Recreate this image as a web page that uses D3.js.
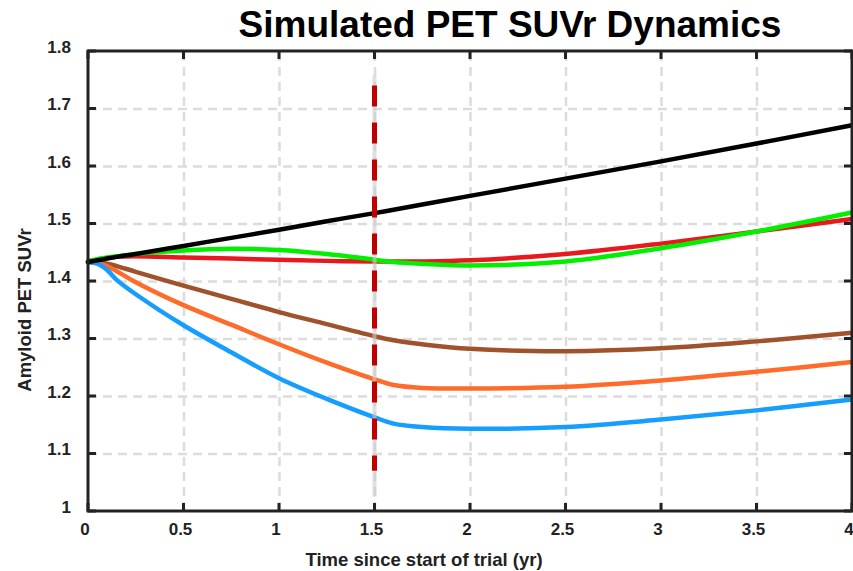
<!doctype html>
<html>
  <head>
    <meta charset="utf-8">
    <title>Simulated PET SUVr Dynamics</title>
    <script src="https://cdn.jsdelivr.net/npm/d3@7/dist/d3.min.js"></script>
    <style>
      html, body { margin:0; padding:0; overflow:hidden; background:#fff }
      svg { display:block }
      text { font-family: "Liberation Sans", Arial, sans-serif; font-weight: bold; fill: #222 }
      .grid line { stroke: #dcdcdc; stroke-width: 2.5; stroke-dasharray: 9,6 }
      .grid path { display: none }
      .curve { fill: none; stroke-width: 4.5; stroke-linejoin: round; stroke-linecap: round }
    </style>
  </head>
  <body>
    <div id="chart"></div>
    <script>
      // time points (yr) shared by every series
      var times = [0, 0.05, 0.1, 0.15, 0.25, 0.5, 0.75, 1, 1.25, 1.5, 1.6, 1.75, 2, 2.5, 3, 3.5, 4];

      var blackSeries  = [1.433, 1.436, 1.439, 1.442, 1.447, 1.461, 1.475, 1.489, 1.504, 1.518, 1.524, 1.533, 1.548, 1.578, 1.608, 1.639, 1.671];
      var redSeries    = [1.433, 1.437, 1.440, 1.442, 1.443, 1.441, 1.439, 1.437, 1.435, 1.434, 1.434, 1.434, 1.436, 1.447, 1.465, 1.486, 1.508];
      var greenSeries  = [1.435, 1.438, 1.441, 1.443, 1.447, 1.453, 1.456, 1.454, 1.447, 1.437, 1.433, 1.430, 1.427, 1.434, 1.457, 1.486, 1.519];
      var brownSeries  = [1.433, 1.432, 1.430, 1.426, 1.416, 1.392, 1.369, 1.346, 1.325, 1.304, 1.297, 1.290, 1.282, 1.278, 1.283, 1.295, 1.310];
      var orangeSeries = [1.433, 1.431, 1.426, 1.417, 1.398, 1.358, 1.324, 1.290, 1.258, 1.229, 1.219, 1.214, 1.213, 1.216, 1.227, 1.242, 1.259];
      var blueSeries   = [1.433, 1.430, 1.419, 1.402, 1.377, 1.323, 1.276, 1.231, 1.195, 1.163, 1.152, 1.146, 1.143, 1.146, 1.159, 1.175, 1.194];

      var xTicks = [0, 0.5, 1, 1.5, 2, 2.5, 3, 3.5, 4];
      var yTicks = [1, 1.1, 1.2, 1.3, 1.4, 1.5, 1.6, 1.7, 1.8];

      // treatment stop marker
      var markerTime = 1.5;
      var markerRange = [1.07, 1.74];

      var W = 853, H = 571;
      var margin = {top: 51, right: 1, bottom: 60, left: 88};

      var svg = d3.select("#chart").append("svg")
        .attr("width", W).attr("height", H);

      var x = d3.scaleLinear().domain([0, 4]).range([margin.left, W - margin.right]);
      var y = d3.scaleLinear().domain([1, 1.8]).range([H - margin.bottom, margin.top]);

      var fmt = d3.format("~g");

      // grid
      svg.append("g").attr("class", "grid")
        .attr("transform", "translate(0," + y.range()[0] + ")")
        .call(d3.axisBottom(x).tickValues(xTicks.slice(1, -1))
          .tickSize(-(y.range()[0] - y.range()[1])).tickFormat(""));
      svg.append("g").attr("class", "grid")
        .attr("transform", "translate(" + x.range()[0] + ",0)")
        .call(d3.axisLeft(y).tickValues(yTicks.slice(1, -1))
          .tickSize(-(x.range()[1] - x.range()[0])).tickFormat(""));

      // curves
      var line = d3.line()
        .x(function(d) { return x(d[0]); })
        .y(function(d) { return y(d[1]); })
        .curve(d3.curveCatmullRom.alpha(0.5));

      var series = [
        {values: redSeries,    color: "#e8191e"},
        {values: greenSeries,  color: "#00f000"},
        {values: brownSeries,  color: "#a0522d"},
        {values: orangeSeries, color: "#ff6b2a"},
        {values: blueSeries,   color: "#169eff"},
        {values: blackSeries,  color: "#000000"}
      ];

      svg.append("g").selectAll("path")
        .data(series).enter().append("path")
        .attr("class", "curve")
        .attr("stroke", function(s) { return s.color; })
        .attr("d", function(s) { return line(times.map(function(t, i) { return [t, s.values[i]]; })); });

      // dashed marker with its faint halo
      svg.append("line")
        .attr("x1", x(markerTime)).attr("x2", x(markerTime))
        .attr("y1", y(markerRange[1]) - 10).attr("y2", y(markerRange[0]) + 26)
        .attr("stroke", "#ccc").attr("stroke-width", 4).attr("opacity", 0.6);
      svg.append("line")
        .attr("x1", x(markerTime)).attr("x2", x(markerTime))
        .attr("y1", y(markerRange[1])).attr("y2", y(markerRange[0]))
        .attr("stroke", "#c00000").attr("stroke-width", 5)
        .attr("stroke-dasharray", "21,16");

      // axis box with inward ticks
      var box = svg.append("g");
      box.append("rect")
        .attr("x", x.range()[0]).attr("y", y.range()[1])
        .attr("width", x.range()[1] - x.range()[0])
        .attr("height", y.range()[0] - y.range()[1])
        .attr("fill", "none").attr("stroke", "#222").attr("stroke-width", 3);

      var tk = 8;
      box.selectAll(".xt").data(xTicks).enter().append("path")
        .attr("stroke", "#222").attr("stroke-width", 3)
        .attr("d", function(d) {
          return "M" + x(d) + "," + y.range()[0] + "v" + (-tk) +
                 "M" + x(d) + "," + y.range()[1] + "v" + tk;
        });
      box.selectAll(".yt").data(yTicks).enter().append("path")
        .attr("stroke", "#222").attr("stroke-width", 3)
        .attr("d", function(d) {
          return "M" + x.range()[0] + "," + y(d) + "h" + tk +
                 "M" + x.range()[1] + "," + y(d) + "h" + (-tk);
        });

      // tick labels
      svg.append("g").selectAll("text").data(xTicks).enter().append("text")
        .attr("x", function(d) { return x(d) - 3; })
        .attr("y", y.range()[0] + 24)
        .attr("text-anchor", "middle")
        .style("font-size", "17px")
        .text(fmt);
      svg.append("g").selectAll("text").data(yTicks).enter().append("text")
        .attr("x", x.range()[0] - 17)
        .attr("y", function(d) { return y(d) + 1.5; })
        .attr("text-anchor", "end")
        .style("font-size", "17px")
        .text(fmt);

      // titles
      svg.append("text")
        .attr("x", 510).attr("y", 37)
        .attr("text-anchor", "middle")
        .style("font-size", "37px").style("fill", "#000")
        .text("Simulated PET SUVr Dynamics");
      svg.append("text")
        .attr("x", 424).attr("y", 566)
        .attr("text-anchor", "middle")
        .style("font-size", "18.5px")
        .text("Time since start of trial (yr)");
      svg.append("text")
        .attr("transform", "translate(31,310) rotate(-90)")
        .attr("text-anchor", "middle")
        .style("font-size", "18.5px")
        .text("Amyloid PET SUVr");
    </script>
  </body>
</html>
